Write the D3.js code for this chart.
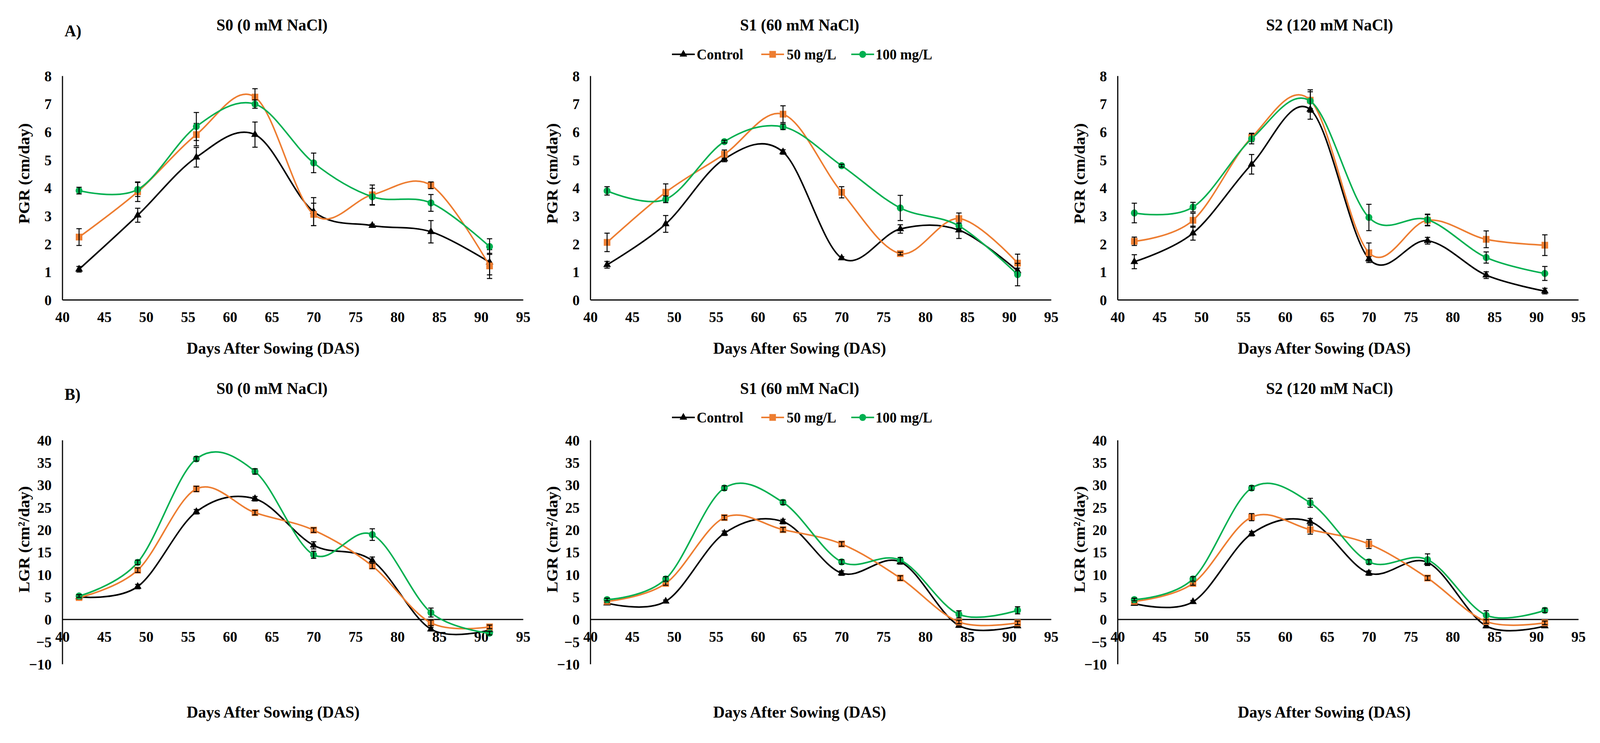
<!DOCTYPE html>
<html>
<head>
<meta charset="utf-8">
<script src="https://cdn.jsdelivr.net/npm/d3@7"></script>
<style>
  html, body { margin: 0; padding: 0; background: #fff; overflow: hidden; }
  svg { display: block; }
  text { font-family: "Liberation Serif", "Times New Roman", serif; font-weight: bold; fill: #000; }
</style>
</head>
<body>
<svg id="chart"></svg>
<script>
// ---------------- DATA ----------------
const days = [42, 49, 56, 63, 70, 77, 84, 91];
const seriesNames = ["Control", "50 mg/L", "100 mg/L"];
const salinityTitles = ["S0 (0 mM NaCl)", "S1 (60 mM NaCl)", "S2 (120 mM NaCl)"];
const xTicks = [40, 45, 50, 55, 60, 65, 70, 75, 80, 85, 90, 95];
const pgrTicks = [0, 1, 2, 3, 4, 5, 6, 7, 8];
const lgrTicks = [-10, -5, 0, 5, 10, 15, 20, 25, 30, 35, 40];
const rowLabels = ["A)", "B)"];
const yAxisTitles = ["PGR (cm/day)", "LGR (cm²/day)"];
const xAxisTitle = "Days After Sowing (DAS)";

// PGR (cm/day) — panel A
const pgrS0Control = [1.09, 3.02, 5.09, 5.90, 3.15, 2.65, 2.43, 1.34];
const pgrS0Control_err = [0.10, 0.25, 0.35, 0.45, 0.50, 0.05, 0.40, 0.45];
const pgrS0_50 = [2.24, 3.86, 5.90, 7.24, 3.05, 3.75, 4.09, 1.21];
const pgrS0_50_err = [0.30, 0.35, 0.40, 0.30, 0.40, 0.35, 0.12, 0.45];
const pgrS0_100 = [3.90, 3.94, 6.19, 6.99, 4.89, 3.68, 3.46, 1.90];
const pgrS0_100_err = [0.12, 0.25, 0.50, 0.15, 0.35, 0.30, 0.30, 0.28];

const pgrS1Control = [1.25, 2.71, 5.03, 5.28, 1.49, 2.53, 2.49, 1.03];
const pgrS1Control_err = [0.12, 0.30, 0.10, 0.08, 0.05, 0.15, 0.30, 0.10];
const pgrS1_50 = [2.05, 3.84, 5.20, 6.63, 3.84, 1.65, 2.90, 1.31];
const pgrS1_50_err = [0.33, 0.30, 0.15, 0.30, 0.20, 0.05, 0.20, 0.32];
const pgrS1_100 = [3.89, 3.59, 5.65, 6.18, 4.79, 3.28, 2.64, 0.90];
const pgrS1_100_err = [0.15, 0.12, 0.05, 0.10, 0.05, 0.45, 0.10, 0.40];

const pgrS2Control = [1.36, 2.38, 4.84, 6.80, 1.46, 2.11, 0.88, 0.31];
const pgrS2Control_err = [0.25, 0.25, 0.35, 0.35, 0.08, 0.12, 0.12, 0.10];
const pgrS2_50 = [2.09, 2.84, 5.80, 7.13, 1.68, 2.84, 2.16, 1.95];
const pgrS2_50_err = [0.15, 0.25, 0.15, 0.30, 0.35, 0.20, 0.30, 0.37];
const pgrS2_100 = [3.10, 3.31, 5.75, 7.10, 2.94, 2.86, 1.51, 0.94];
const pgrS2_100_err = [0.35, 0.17, 0.18, 0.40, 0.47, 0.20, 0.20, 0.25];

// LGR (cm²/day) — panel B
const lgrS0Control = [5.0, 7.3, 24.0, 26.9, 16.5, 13.1, -2.2, -2.4];
const lgrS0Control_err = [0.3, 0.5, 0.5, 0.5, 0.8, 0.8, 0.4, 0.3];
const lgrS0_50 = [4.85, 10.96, 29.1, 23.8, 19.9, 11.9, -0.8, -1.7];
const lgrS0_50_err = [0.3, 0.5, 0.6, 0.5, 0.5, 0.6, 0.6, 0.4];
const lgrS0_100 = [5.2, 12.7, 35.8, 33.0, 14.4, 18.9, 1.5, -3.1];
const lgrS0_100_err = [0.3, 0.5, 0.5, 0.6, 0.8, 1.3, 1.0, 0.4];

const lgrS1Control = [3.6, 4.0, 19.2, 21.8, 10.3, 12.8, -1.4, -1.5];
const lgrS1Control_err = [0.3, 0.3, 0.5, 0.5, 0.5, 0.5, 0.4, 0.3];
const lgrS1_50 = [4.0, 8.0, 22.7, 20.0, 16.8, 9.2, -0.6, -0.8];
const lgrS1_50_err = [0.3, 0.4, 0.5, 0.5, 0.5, 0.5, 0.4, 0.4];
const lgrS1_100 = [4.4, 9.0, 29.3, 26.1, 12.8, 13.2, 1.1, 2.0];
const lgrS1_100_err = [0.3, 0.5, 0.5, 0.5, 0.5, 0.6, 0.8, 0.8];

const lgrS2Control = [3.5, 3.9, 19.1, 21.8, 10.3, 12.7, -1.5, -1.5];
const lgrS2Control_err = [0.3, 0.3, 0.5, 0.7, 0.5, 0.6, 0.4, 0.3];
const lgrS2_50 = [4.0, 8.0, 22.8, 20.0, 16.8, 9.2, -0.5, -0.8];
const lgrS2_50_err = [0.3, 0.4, 0.8, 1.0, 1.0, 0.5, 0.4, 0.4];
const lgrS2_100 = [4.4, 9.0, 29.3, 26.0, 12.8, 13.3, 0.9, 2.0];
const lgrS2_100_err = [0.3, 0.5, 0.5, 1.0, 0.5, 1.3, 1.0, 0.5];

// ---------------- STYLE / LAYOUT ----------------
const W = 4212, H = 1901;
const colors = ["#000000", "#ED7D31", "#00B050"];
const symbols = [d3.symbolTriangle, d3.symbolSquare, d3.symbolCircle];
const symbolSizes = [175, 300, 260];
const FONT_TICK = 38, FONT_TITLE = 42, FONT_AXIS = 42, FONT_LEGEND = 37;

const panelAxisX = [164, 1554, 2942];
const plotW = 1213;
const titleX = [716, 2105, 3500];
const xTitleX = [719, 2105, 3486];

const rows = [
  { top: 194, bottom: 767, domain: [0, 8], ticks: pgrTicks, titleY: 64, labelY: 79, legendY: 139, xTitleY: 891, yTitleY: 444,
    panels: [
      [[pgrS0Control, pgrS0Control_err], [pgrS0_50, pgrS0_50_err], [pgrS0_100, pgrS0_100_err]],
      [[pgrS1Control, pgrS1Control_err], [pgrS1_50, pgrS1_50_err], [pgrS1_100, pgrS1_100_err]],
      [[pgrS2Control, pgrS2Control_err], [pgrS2_50, pgrS2_50_err], [pgrS2_100, pgrS2_100_err]]
    ] },
  { top: 1126, bottom: 1699, domain: [-10, 40], ticks: lgrTicks, titleY: 994, labelY: 1009, legendY: 1068, xTitleY: 1822, yTitleY: 1380,
    panels: [
      [[lgrS0Control, lgrS0Control_err], [lgrS0_50, lgrS0_50_err], [lgrS0_100, lgrS0_100_err]],
      [[lgrS1Control, lgrS1Control_err], [lgrS1_50, lgrS1_50_err], [lgrS1_100, lgrS1_100_err]],
      [[lgrS2Control, lgrS2Control_err], [lgrS2_50, lgrS2_50_err], [lgrS2_100, lgrS2_100_err]]
    ] }
];

// fit the 4212-wide design into the actual viewport width
const viewW = Math.min(window.innerWidth || W, W);
const viewH = Math.min(window.innerHeight || H, H);
const svg = d3.select("#chart")
  .attr("width", viewW).attr("height", viewH)
  .attr("viewBox", `0 0 ${W} ${H}`)
  .attr("preserveAspectRatio", "none");
svg.append("rect").attr("width", W).attr("height", H).attr("fill", "#fff");

rows.forEach((row, ri) => {
  svg.append("text").attr("x", 170).attr("y", row.labelY).attr("dominant-baseline", "central")
    .attr("font-size", FONT_TITLE).text(rowLabels[ri]);

  row.panels.forEach((panel, pi) => {
    const x0 = panelAxisX[pi];
    const x = d3.scaleLinear().domain([40, 95]).range([x0, x0 + plotW]);
    const y = d3.scaleLinear().domain(row.domain).range([row.bottom, row.top]);
    const g = svg.append("g");

    g.append("text").attr("x", titleX[pi]).attr("y", row.titleY).attr("text-anchor", "middle")
      .attr("dominant-baseline", "central").attr("font-size", FONT_TITLE).text(salinityTitles[pi]);

    const yAxis = g.append("g").attr("transform", `translate(${x0},0)`)
      .call(d3.axisLeft(y).tickValues(row.ticks).tickSize(0).tickPadding(28).tickFormat(d3.format("d")));
    yAxis.select(".domain").attr("stroke", "#000").attr("stroke-width", 3);
    yAxis.selectAll("text").attr("font-size", FONT_TICK).attr("font-family", null).attr("dy", "0.35em");

    const xAxis = g.append("g").attr("transform", `translate(0,${y(0)})`)
      .call(d3.axisBottom(x).tickValues(xTicks).tickSize(0).tickPadding(0).tickFormat(d3.format("d")));
    xAxis.select(".domain").attr("stroke", "#000").attr("stroke-width", 3);
    xAxis.selectAll("text").attr("font-size", FONT_TICK).attr("font-family", null)
      .attr("y", 44).attr("dy", "0.35em");

    g.append("text").attr("x", xTitleX[pi]).attr("y", row.xTitleY).attr("text-anchor", "middle")
      .attr("dominant-baseline", "central").attr("font-size", FONT_AXIS).text(xAxisTitle);
    g.append("text").attr("transform", `translate(${x0 - 101},${row.yTitleY}) rotate(-90)`)
      .attr("text-anchor", "middle").attr("dominant-baseline", "central")
      .attr("font-size", FONT_AXIS).text(yAxisTitles[ri]);

    const line = d3.line().x(d => x(d.day)).y(d => y(d.v)).curve(d3.curveCardinal.tension(0));
    panel.forEach(([vals, errs], si) => {
      const pts = days.map((day, i) => ({ day, v: vals[i], e: errs[i] }));
      const sg = g.append("g");
      sg.append("path").datum(pts).attr("d", line).attr("fill", "none")
        .attr("stroke", colors[si]).attr("stroke-width", 4);
      sg.selectAll(".mk").data(pts).join("path")
        .attr("transform", d => `translate(${x(d.day)},${y(d.v)})`)
        .attr("d", d3.symbol().type(symbols[si]).size(symbolSizes[si]))
        .attr("fill", colors[si]);
      const eb = sg.selectAll(".eb").data(pts).join("g").attr("stroke", "#000").attr("stroke-width", 2.5);
      eb.append("line").attr("x1", d => x(d.day)).attr("x2", d => x(d.day))
        .attr("y1", d => y(d.v + d.e)).attr("y2", d => y(d.v - d.e));
      eb.append("line").attr("x1", d => x(d.day) - 7).attr("x2", d => x(d.day) + 7)
        .attr("y1", d => y(d.v + d.e)).attr("y2", d => y(d.v + d.e));
      eb.append("line").attr("x1", d => x(d.day) - 7).attr("x2", d => x(d.day) + 7)
        .attr("y1", d => y(d.v - d.e)).attr("y2", d => y(d.v - d.e));
    });

    if (pi === 1) {
      const legendItems = [
        { lineX: 1769, textX: 1834 },
        { lineX: 2004, textX: 2071 },
        { lineX: 2241, textX: 2305 }
      ];
      legendItems.forEach((it, si) => {
        const lg = g.append("g");
        lg.append("line").attr("x1", it.lineX).attr("x2", it.lineX + 60)
          .attr("y1", row.legendY).attr("y2", row.legendY)
          .attr("stroke", colors[si]).attr("stroke-width", 4);
        lg.append("path").attr("transform", `translate(${it.lineX + 30},${row.legendY})`)
          .attr("d", d3.symbol().type(symbols[si]).size(symbolSizes[si])).attr("fill", colors[si]);
        lg.append("text").attr("x", it.textX).attr("y", row.legendY).attr("dominant-baseline", "central")
          .attr("font-size", FONT_LEGEND).text(seriesNames[si]);
      });
    }
  });
});
</script>
</body>
</html>
